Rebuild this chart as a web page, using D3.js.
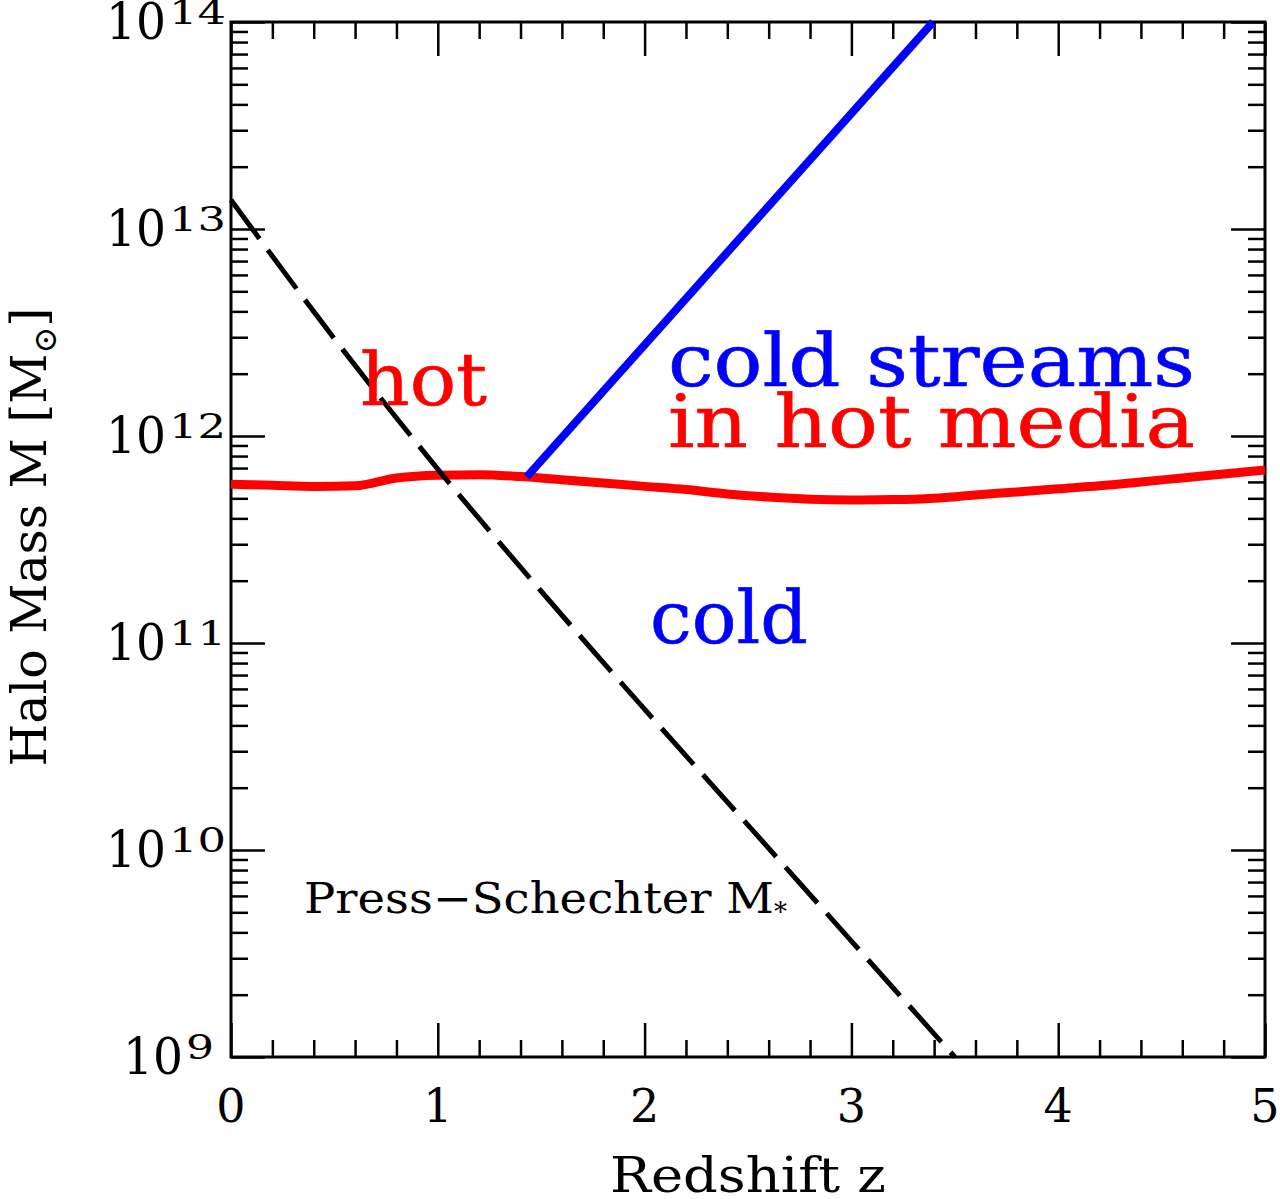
<!DOCTYPE html>
<html>
<head>
<meta charset="utf-8">
<script src="https://cdn.jsdelivr.net/npm/d3@7"></script>
<style>
  html, body { margin: 0; padding: 0; background: #fff; }
  svg { display: block; }
</style>
</head>
<body>
<svg id="chart" width="1280" height="1199"></svg>
<script>
// ---- data ----
const xMajorTicks = [0, 1, 2, 3, 4, 5];
const yDecades = [9, 10, 11, 12, 13, 14];

// shock-heating threshold (red)
const hotZ = [0, 0.2, 0.4, 0.6, 0.8, 1.0, 1.2, 1.4, 1.6, 1.8, 2.0, 2.2, 2.4, 2.6, 2.8, 3.0, 3.2, 3.4, 3.6, 3.8, 4.0, 4.2, 4.4, 4.6, 4.8, 5.0];
const hotM = [5.85e11, 5.78e11, 5.71e11, 5.75e11, 6.27e11, 6.47e11, 6.50e11, 6.37e11, 6.15e11, 5.93e11, 5.71e11, 5.51e11, 5.25e11, 5.07e11, 4.95e11, 4.91e11, 4.93e11, 5.01e11, 5.19e11, 5.37e11, 5.56e11, 5.75e11, 6.00e11, 6.27e11, 6.55e11, 6.85e11];

// cold-stream upper limit (blue)
const streamZ = [1.43, 3.395];
const streamM = [6.35e11, 1e14];

// Press-Schechter M* (black dashed)
const psZ = [0, 0.5, 1.0, 1.5, 2.0, 2.5, 3.0, 3.5];
const psLogM = [13.14, 12.47, 11.84, 11.25, 10.68, 10.12, 9.56, 9.0];

// ---- layout ----
const svg = d3.select("#chart");
const X0 = 231, X1 = 1265, Y0 = 1057, Y1 = 22;
const x = d3.scaleLinear().domain([0, 5]).range([X0, X1]);
const y = d3.scaleLog().domain([1e9, 1e14]).range([Y0, Y1]);

const serif = "'DejaVu Serif', 'Liberation Serif', serif";

// minor ticks
const xMinor = d3.range(0, 5.001, 0.2).filter(v => Math.abs(v - Math.round(v)) > 1e-6);
const yMinor = [];
yDecades.slice(0, -1).forEach(d => { for (let k = 2; k <= 9; k++) yMinor.push(k * Math.pow(10, d)); });
const yMajor = yDecades.map(d => Math.pow(10, d));

function styleAxis(g) {
  g.select(".domain").remove();
  g.selectAll(".tick line").attr("stroke", "#000").attr("stroke-width", 2.5);
  g.selectAll(".tick text").remove();
}
const MAJ = 34, MIN = 17;
svg.append("g").attr("transform", `translate(0,${Y0})`).call(d3.axisBottom(x).tickValues(xMajorTicks).tickSize(-MAJ)).call(styleAxis);
svg.append("g").attr("transform", `translate(0,${Y0})`).call(d3.axisBottom(x).tickValues(xMinor).tickSize(-MIN)).call(styleAxis);
svg.append("g").attr("transform", `translate(0,${Y1})`).call(d3.axisTop(x).tickValues(xMajorTicks).tickSize(-MAJ)).call(styleAxis);
svg.append("g").attr("transform", `translate(0,${Y1})`).call(d3.axisTop(x).tickValues(xMinor).tickSize(-MIN)).call(styleAxis);
svg.append("g").attr("transform", `translate(${X0},0)`).call(d3.axisLeft(y).tickValues(yMajor).tickSize(-MAJ)).call(styleAxis);
svg.append("g").attr("transform", `translate(${X0},0)`).call(d3.axisLeft(y).tickValues(yMinor).tickSize(-MIN)).call(styleAxis);
svg.append("g").attr("transform", `translate(${X1},0)`).call(d3.axisRight(y).tickValues(yMajor).tickSize(-MAJ)).call(styleAxis);
svg.append("g").attr("transform", `translate(${X1},0)`).call(d3.axisRight(y).tickValues(yMinor).tickSize(-MIN)).call(styleAxis);

// frame
svg.append("rect").attr("x", X0).attr("y", Y1).attr("width", X1 - X0).attr("height", Y0 - Y1)
  .attr("fill", "none").attr("stroke", "#000").attr("stroke-width", 3);

// x tick labels
svg.append("g").selectAll("text").data(xMajorTicks).join("text")
  .attr("x", d => x(d)).attr("y", Y0 + 65)
  .attr("text-anchor", "middle").attr("font-family", serif).attr("font-size", 46)
  .text(d => d);

// y tick labels 10^n
const yl = svg.append("g").selectAll("text").data(yDecades).join("text")
  .attr("x", d => d >= 10 ? 106 : 123).attr("y", d => y(Math.pow(10, d)) + 17)
  .attr("font-family", serif).attr("font-size", 50);
yl.append("tspan").attr("textLength", 60).attr("lengthAdjust", "spacingAndGlyphs").text("10");
yl.append("tspan").attr("font-size", 34).attr("dy", -15).attr("dx", 3)
  .attr("textLength", d => d >= 10 ? 57 : 28).attr("lengthAdjust", "spacingAndGlyphs")
  .text(d => d);

// axis titles
svg.append("text").attr("x", 748).attr("y", 1192)
  .attr("text-anchor", "middle").attr("font-family", serif).attr("font-size", 48)
  .attr("textLength", 276).attr("lengthAdjust", "spacingAndGlyphs")
  .text("Redshift z");
const yt = svg.append("text").attr("transform", `translate(46,537) rotate(-90)`)
  .attr("text-anchor", "middle").attr("font-family", serif).attr("font-size", 49);
yt.append("tspan").text("Halo Mass M [M");
yt.append("tspan").attr("font-size", 32).attr("dy", 10).text("⊙");
yt.append("tspan").attr("dy", -10).text("]");

// lines
const hotLine = d3.line().x((d, i) => x(hotZ[i])).y((d, i) => y(hotM[i])).curve(d3.curveMonotoneX);
svg.append("path").attr("d", hotLine(hotZ)).attr("fill", "none").attr("stroke", "#ff0000").attr("stroke-width", 9);

const streamLine = d3.line().x((d, i) => x(streamZ[i])).y((d, i) => y(streamM[i]));
svg.append("path").attr("d", streamLine(streamZ)).attr("fill", "none").attr("stroke", "#0000ff").attr("stroke-width", 8);

const psLine = d3.line().x((d, i) => x(psZ[i])).y((d, i) => y(Math.pow(10, psLogM[i]))).curve(d3.curveMonotoneX);
svg.append("path").attr("d", psLine(psZ)).attr("fill", "none").attr("stroke", "#000").attr("stroke-width", 5)
  .attr("stroke-dasharray", "48,14");

// region labels
function label(txt, xx, yy, color, len) {
  svg.append("text").attr("x", xx).attr("y", yy).attr("fill", color)
    .attr("stroke", color).attr("stroke-width", 0.6)
    .attr("font-family", serif).attr("font-size", 72)
    .attr("textLength", len).attr("lengthAdjust", "spacingAndGlyphs")
    .text(txt);
}
label("hot", 360, 405, "#ff0000", 127);
label("cold streams", 668, 386, "#0000ff", 527);
label("in hot media", 668, 447, "#ff0000", 527);
label("cold", 650, 643, "#0000ff", 158);

const ps = svg.append("text").attr("x", 304).attr("y", 913)
  .attr("font-family", serif).attr("font-size", 42);
ps.append("tspan").text("Press−Schechter M").attr("textLength", 470).attr("lengthAdjust", "spacingAndGlyphs");
ps.append("tspan").attr("font-size", 26).attr("dy", 8).text("*");
</script>
</body>
</html>
